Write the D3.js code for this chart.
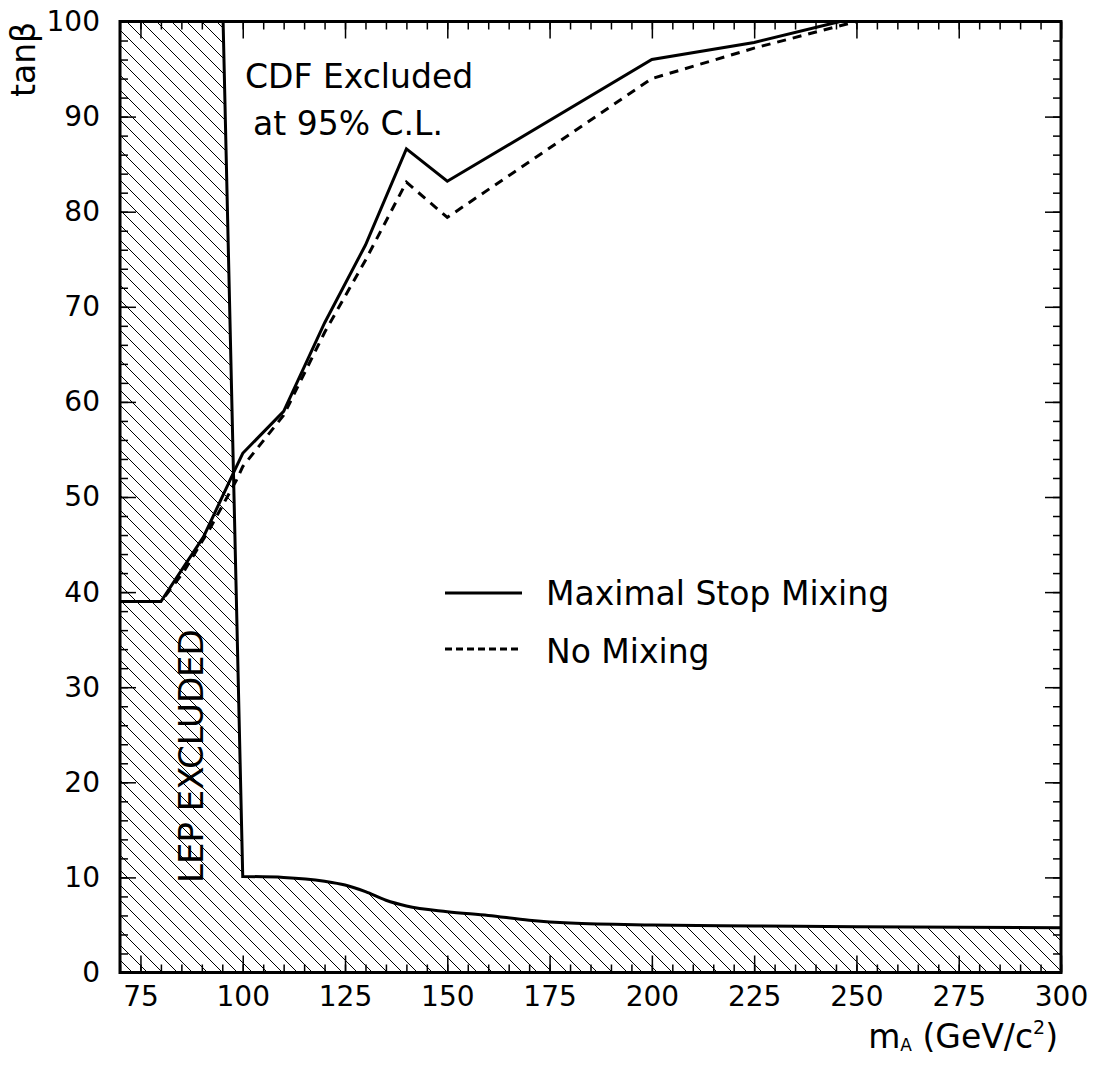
<!DOCTYPE html>
<html lang="en">
<head>
<meta charset="utf-8">
<title>tanb vs mA exclusion</title>
<script src="https://cdn.jsdelivr.net/npm/d3@7"></script>
<style>
  body { margin: 0; background: #fff; }
  text { font-family: "DejaVu Sans", sans-serif; fill: #000; }
</style>
</head>
<body>
<script>
// Maximal stop mixing CDF limit (solid)
var massMax = [70, 80, 90.4, 97.7, 100, 110, 120, 130, 140, 150, 200, 225, 246];
var tanbMax = [39, 39, 45.8, 52.5, 54.6, 59, 68.3, 76.5, 86.6, 83.2, 96, 97.8, 100];
// No mixing CDF limit (dashed)
var massNo = [70, 80, 85.5, 92, 98.5, 100, 110, 120, 130, 140, 150, 200, 225, 250];
var tanbNo = [39, 39, 42.1, 46.7, 51.8, 53.2, 58.6, 67.3, 74.9, 83.1, 79.4, 94, 97.2, 100];
// LEP excluded boundary
var lepMass = [95.2, 100, 110, 120, 125, 130, 135, 140, 150, 160, 170, 180, 200, 225, 250, 300];
var lepTanb = [100, 10.1, 10.0, 9.6, 9.2, 8.5, 7.6, 7.0, 6.4, 6.0, 5.5, 5.2, 5.0, 4.9, 4.8, 4.7];
var xMajor = [75, 100, 125, 150, 175, 200, 225, 250, 275, 300];
var yMajor = [0, 10, 20, 30, 40, 50, 60, 70, 80, 90, 100];

var W = 1094, H = 1066;
var pLeft = 120, pRight = 1061, pTop = 21.5, pBottom = 972.5;

var svg = d3.select("body").append("svg")
  .attr("width", W).attr("height", H);

var x = d3.scaleLinear().domain([70, 300]).range([pLeft, pRight]);
var y = d3.scaleLinear().domain([0, 100]).range([pBottom, pTop]);

// hatch pattern
var pat = svg.append("defs").append("pattern")
  .attr("id", "hatch")
  .attr("patternUnits", "userSpaceOnUse")
  .attr("width", 15).attr("height", 15);
pat.append("path")
  .attr("d", "M0,0 L15,15 M-1,14 L1,16 M14,-1 L16,1")
  .attr("stroke", "#000").attr("stroke-width", 1);

function pts(xs, ys) { return xs.map(function(v, i) { return [v, ys[i]]; }); }

// LEP region: straight steep edge then smooth floor
var lep = pts(lepMass, lepTanb);
var floorLine = d3.line()
  .x(function(d) { return x(d[0]); })
  .y(function(d) { return y(d[1]); })
  .curve(d3.curveMonotoneX);
var floorPath = floorLine(lep.slice(1)).replace(/^M/, "L");
var edgePath = "M" + x(lep[0][0]) + "," + y(lep[0][1]) + floorPath;

svg.append("path")
  .attr("d", "M" + x(70) + "," + y(100) + "L" + x(lep[0][0]) + "," + y(lep[0][1]) +
        floorPath + "L" + x(300) + "," + y(0) + "L" + x(70) + "," + y(0) + "Z")
  .attr("fill", "url(#hatch)");
svg.append("path")
  .attr("d", edgePath)
  .attr("fill", "none").attr("stroke", "#000").attr("stroke-width", 3);

var line = d3.line()
  .x(function(d) { return x(d[0]); })
  .y(function(d) { return y(d[1]); });

svg.append("path")
  .attr("d", line(pts(massNo, tanbNo)))
  .attr("fill", "none").attr("stroke", "#000").attr("stroke-width", 3)
  .attr("stroke-dasharray", "9,7");
svg.append("path")
  .attr("d", line(pts(massMax, tanbMax)))
  .attr("fill", "none").attr("stroke", "#000").attr("stroke-width", 3);

// axes with inward ticks
function styleAxis(g) {
  g.select(".domain").remove();
  g.selectAll("line").attr("stroke", "#000").attr("stroke-width", 1.5);
  g.selectAll("text").attr("font-size", 28).attr("font-family", "DejaVu Sans");
}
svg.append("g").attr("transform", "translate(0," + pBottom + ")")
  .call(d3.axisBottom(x).tickValues(d3.range(70, 301, 5)).tickSizeInner(-8).tickSizeOuter(0).tickFormat(""))
  .call(styleAxis);
svg.append("g").attr("transform", "translate(0," + pBottom + ")")
  .call(d3.axisBottom(x).tickValues(xMajor).tickSizeInner(-17).tickSizeOuter(0).tickPadding(14))
  .call(styleAxis);
svg.append("g").attr("transform", "translate(0," + pTop + ")")
  .call(d3.axisTop(x).tickValues(d3.range(70, 301, 5)).tickSizeInner(-8).tickSizeOuter(0).tickFormat(""))
  .call(styleAxis);
svg.append("g").attr("transform", "translate(0," + pTop + ")")
  .call(d3.axisTop(x).tickValues(xMajor).tickSizeInner(-17).tickSizeOuter(0).tickFormat(""))
  .call(styleAxis);
svg.append("g").attr("transform", "translate(" + pLeft + ",0)")
  .call(d3.axisLeft(y).tickValues(d3.range(0, 101, 2)).tickSizeInner(-8).tickSizeOuter(0).tickFormat(""))
  .call(styleAxis);
svg.append("g").attr("transform", "translate(" + pLeft + ",0)")
  .call(d3.axisLeft(y).tickValues(yMajor).tickSizeInner(-16).tickSizeOuter(0).tickPadding(20))
  .call(styleAxis);
svg.append("g").attr("transform", "translate(" + pRight + ",0)")
  .call(d3.axisRight(y).tickValues(d3.range(0, 101, 2)).tickSizeInner(-8).tickSizeOuter(0).tickFormat(""))
  .call(styleAxis);
svg.append("g").attr("transform", "translate(" + pRight + ",0)")
  .call(d3.axisRight(y).tickValues(yMajor).tickSizeInner(-16).tickSizeOuter(0).tickFormat(""))
  .call(styleAxis);

// frame
svg.append("rect")
  .attr("x", pLeft).attr("y", pTop)
  .attr("width", pRight - pLeft).attr("height", pBottom - pTop)
  .attr("fill", "none").attr("stroke", "#000").attr("stroke-width", 3);

// labels
svg.append("text").attr("x", 245).attr("y", 88).attr("font-size", 33).text("CDF Excluded");
svg.append("text").attr("x", 253).attr("y", 135).attr("font-size", 33).text("at 95% C.L.");

svg.append("text")
  .attr("transform", "translate(203,883) rotate(-90)")
  .attr("font-size", 34).text("LEP EXCLUDED");

// legend
svg.append("line").attr("x1", 445).attr("x2", 522).attr("y1", 593).attr("y2", 593)
  .attr("stroke", "#000").attr("stroke-width", 3);
svg.append("text").attr("x", 546).attr("y", 605).attr("font-size", 33).text("Maximal Stop Mixing");
svg.append("line").attr("x1", 445).attr("x2", 522).attr("y1", 649).attr("y2", 649)
  .attr("stroke", "#000").attr("stroke-width", 3).attr("stroke-dasharray", "7,4");
svg.append("text").attr("x", 546).attr("y", 663).attr("font-size", 33).text("No Mixing");

// axis titles
var xt = svg.append("text").attr("x", 1058).attr("y", 1048)
  .attr("text-anchor", "end").attr("font-size", 33);
xt.append("tspan").text("m");
xt.append("tspan").attr("font-size", 17).attr("dy", 3).text("A");
xt.append("tspan").attr("dy", -3).text(" (GeV/c");
xt.append("tspan").attr("font-size", 19).attr("dy", -14).text("2");
xt.append("tspan").attr("dy", 14).text(")");

svg.append("text")
  .attr("transform", "translate(35,97) rotate(-90)")
  .attr("font-size", 33).text("tanβ");
</script>
</body>
</html>
